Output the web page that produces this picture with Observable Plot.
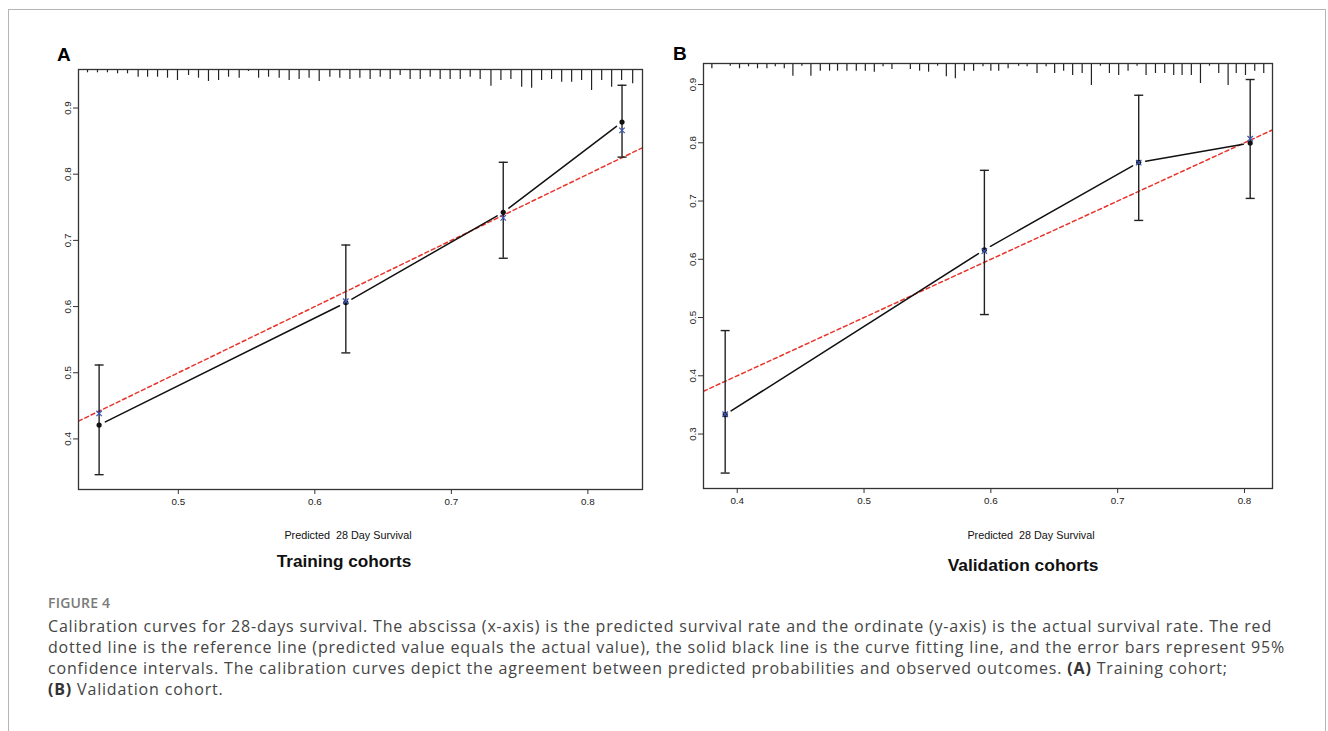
<!DOCTYPE html>
<html>
<head>
<meta charset="utf-8">
<script src="https://cdn.jsdelivr.net/npm/d3@7"></script>
<script src="https://cdn.jsdelivr.net/npm/@observablehq/plot@0.6"></script>
<style>
  html, body { margin: 0; padding: 0; background: #fff; }
  #page { position: relative; width: 1328px; height: 731px; overflow: hidden; background: #fff; }
  #border { position: absolute; left: 8px; top: 9px; width: 1318px; height: 760px; border: 1px solid #b5b5b5; box-sizing: border-box; }
  .panel { position: absolute; }
  .t { position: absolute; white-space: pre; transform: translate(-50%, -50%); font-family: "Liberation Sans", Arial, sans-serif; color: #111; }
  .letter { position: absolute; font-family: "Liberation Sans", Arial, sans-serif; font-weight: bold; font-size: 19px; color: #000; }
  #figlabel { position: absolute; left: 48px; top: 593px; font-family: "Open Sans", sans-serif; font-weight: 600; font-size: 14px; color: #7a7a7a; letter-spacing: 0.2px; }
  #caption { position: absolute; left: 48px; top: 616px; font-family: "Open Sans", sans-serif; font-size: 16px; line-height: 21px; color: #454545; }
  #caption div { white-space: nowrap; }
  #caption b { font-weight: 700; color: #333; }
</style>
</head>
<body>
<div id="page">
  <div id="border"></div>
  <div class="letter" style="left:57px; top:44px;">A</div>
  <div class="letter" style="left:673px; top:43px;">B</div>
  <div id="panelA" class="panel" style="left:40px; top:40px;"></div>
  <div id="panelB" class="panel" style="left:660px; top:40px;"></div>
  <div class="t" style="left:348px; top:535px; font-size:10.8px;">Predicted  28 Day Survival</div>
  <div class="t" style="left:344px; top:561px; font-size:17.2px; font-weight:bold;">Training cohorts</div>
  <div class="t" style="left:1031px; top:535px; font-size:10.8px;">Predicted  28 Day Survival</div>
  <div class="t" style="left:1023px; top:565px; font-size:17.4px; font-weight:bold;">Validation cohorts</div>
  <div id="figlabel">FIGURE 4</div>
  <div id="caption">
    <div id="cap1">Calibration curves for 28-days survival. The abscissa (x-axis) is the predicted survival rate and the ordinate (y-axis) is the actual survival rate. The red</div>
    <div>dotted line is the reference line (predicted value equals the actual value), the solid black line is the curve fitting line, and the error bars represent 95%</div>
    <div>confidence intervals. The calibration curves depict the agreement between predicted probabilities and observed outcomes. <b>(A)</b> Training cohort;</div>
    <div><b>(B)</b> Validation cohort.</div>
  </div>
</div>
<script>
// ---------- Panel A (training) ----------
const xTicksA = [0.5, 0.6, 0.7, 0.8];
const yTicksA = [0.4, 0.5, 0.6, 0.7, 0.8, 0.9];
const xDomainA = [0.4269, 0.840];
const yDomainA = [0.3236, 0.9582];
const predA = [0.442, 0.6227, 0.738, 0.825];
const obsA = [0.421, 0.606, 0.7424, 0.8788];
const lowA = [0.346, 0.530, 0.673, 0.8258];
const highA = [0.5117, 0.693, 0.818, 0.9344];
const corrA = [0.4385, 0.608, 0.734, 0.8662];
const rugPosA = [0.4335, 0.4408, 0.4481, 0.4555, 0.4628, 0.4706, 0.4775, 0.4848, 0.4921, 0.4994,
  0.5075, 0.5148, 0.5221, 0.5295, 0.5368, 0.5446, 0.5514, 0.5588, 0.5661, 0.5739,
  0.5812, 0.5885, 0.5958, 0.6032, 0.6110, 0.6183, 0.6257, 0.6330, 0.6405, 0.6479,
  0.6552, 0.6625, 0.6698, 0.6772, 0.6845, 0.6918, 0.6991, 0.7065, 0.7138, 0.7211,
  0.7290, 0.7363, 0.7436, 0.7515, 0.7588, 0.7661, 0.7734, 0.7808, 0.7881, 0.7954,
  0.8027, 0.8101, 0.8174, 0.8247, 0.8328];
const rugFreqA = [3.3, 3.3, 3.3, 4.3, 4.3, 7.7, 7.7, 7.7, 8.7, 11,
  6, 8.7, 12, 11, 7.7, 8.7, 2, 8.7, 7.7, 8.7,
  11, 10, 8.7, 12, 7.7, 8.7, 10, 8.7, 10, 7.7,
  10, 6, 10, 10, 7.7, 10, 10, 10, 7.7, 10,
  16.7, 11, 10, 17.7, 18.7, 11, 10, 12.7, 12.7, 11,
  21, 11, 17.7, 11, 14.3];

// ---------- Panel B (validation) ----------
const xTicksB = [0.4, 0.5, 0.6, 0.7, 0.8];
const yTicksB = [0.3, 0.4, 0.5, 0.6, 0.7, 0.8, 0.9];
const xDomainB = [0.3734, 0.8221];
const yDomainB = [0.2065, 0.9361];
const predB = [0.3905, 0.5949, 0.7166, 0.8045];
const obsB = [0.3332, 0.6163, 0.7664, 0.7996];
const lowB = [0.233, 0.5051, 0.6667, 0.7045];
const highB = [0.4776, 0.7527, 0.8816, 0.9086];
const corrB = [0.334, 0.614, 0.766, 0.807];
const rugPosB = [0.3800, 0.3945, 0.4018, 0.4089, 0.4160, 0.4234, 0.4300, 0.4371, 0.4439, 0.4510,
  0.4581, 0.4655, 0.4728, 0.4791, 0.4865, 0.4939, 0.5010, 0.5081, 0.5150, 0.5220,
  0.5365, 0.5438, 0.5509, 0.5580, 0.5649, 0.5720, 0.5791, 0.5864, 0.5938, 0.6000,
  0.6062, 0.6136, 0.6219, 0.6286, 0.6364, 0.6436, 0.6503, 0.6574, 0.6645, 0.6720,
  0.6793, 0.6864, 0.6935, 0.7008, 0.7082, 0.7153, 0.7224, 0.7298, 0.7371, 0.7442,
  0.7508, 0.7581, 0.7653, 0.7724, 0.7797, 0.7871, 0.7935, 0.8008, 0.8081, 0.8152];
const rugFreqB = [5.3, 2.7, 5.3, 3.3, 5.3, 5.3, 3.3, 5.3, 12.7, 2.7,
  12.7, 7.7, 7.7, 7.7, 7.7, 7.7, 7.7, 8.7, 3.3, 6,
  6, 7.7, 8.7, 2.7, 13.3, 15.3, 7.7, 7.7, 3.3, 7.7,
  7.7, 5.3, 2.7, 3.3, 10, 3.3, 10, 7.7, 12, 10,
  22, 2.7, 10, 12, 7.7, 2.7, 12, 10, 10, 12,
  12, 12, 20, 2.7, 10, 22, 10, 12, 7.7, 10];

// ---------- drawing helpers ----------
const capSymbol = {
  draw(ctx, size) { const w = Math.sqrt(size / Math.PI); ctx.moveTo(-w, 0); ctx.lineTo(w, 0); }
};
function gapCurve(gap) {
  return (context) => {
    let pts = [];
    return {
      areaStart() {}, areaEnd() {},
      lineStart() { pts = []; },
      point(x, y) { pts.push([+x, +y]); },
      lineEnd() {
        for (let i = 0; i < pts.length - 1; i++) {
          const [x0, y0] = pts[i], [x1, y1] = pts[i + 1];
          const L = Math.hypot(x1 - x0, y1 - y0);
          const ux = (x1 - x0) / L, uy = (y1 - y0) / L;
          context.moveTo(x0 + ux * gap, y0 + uy * gap);
          context.lineTo(x1 - ux * gap, y1 - uy * gap);
        }
      }
    };
  };
}

function panel(cfg) {
  const {width, height, mt, mr, mb, ml, xDomain, yDomain, xTicks, yTicks, pred, obs, low, high, corr, rugPos, rugFreq} = cfg;
  const rows = pred.map((p, i) => ({p, obs: obs[i], low: low[i], high: high[i], corr: corr[i]}));
  const spikeUnit = (yDomain[1] - yDomain[0]) / (height - mt - mb);
  const rug = rugPos.map((p, i) => ({p, n: rugFreq[i]}));
  const fmt = d3.format(".1f");
  return Plot.plot({
    width, height,
    marginTop: mt, marginRight: mr, marginBottom: mb, marginLeft: ml,
    style: {fontFamily: "Liberation Sans, Arial, sans-serif", fontSize: "9.8px", color: "#222", background: "transparent", overflow: "visible"},
    x: {domain: xDomain},
    y: {domain: yDomain},
    marks: [
      Plot.axisX({ticks: xTicks, tickSize: 5, tickPadding: 4, tickFormat: fmt, label: null, stroke: "#333"}),
      Plot.axisY({ticks: yTicks, tickSize: 5, tickPadding: 3, tickFormat: fmt, tickRotate: -90, label: null, stroke: "#333"}),
      Plot.ruleX(rug, {x: "p", y1: yDomain[1], y2: d => yDomain[1] - d.n * spikeUnit, stroke: "#222", strokeWidth: 1.2}),
      Plot.line(xDomain, {x: d => d, y: d => d, stroke: "#e8352b", strokeWidth: 1.5, strokeDasharray: "4,3", clip: true}),
      Plot.line(rows, {x: "p", y: "obs", curve: gapCurve(7), stroke: "#111", strokeWidth: 1.5}),
      Plot.ruleX(rows, {x: "p", y1: "low", y2: "high", stroke: "#222", strokeWidth: 1.4}),
      Plot.dot(rows, {x: "p", y: "low", symbol: capSymbol, r: 4.5, stroke: "#222", strokeWidth: 1.4, fill: "none"}),
      Plot.dot(rows, {x: "p", y: "high", symbol: capSymbol, r: 4.5, stroke: "#222", strokeWidth: 1.4, fill: "none"}),
      Plot.dot(rows, {x: "p", y: "obs", r: 2.6, fill: "#111", stroke: "none"}),
      Plot.dot(rows, {x: "p", y: "corr", symbol: "times", r: 2.6, stroke: "#3a56b5", strokeWidth: 1.2}),
      Plot.frame({stroke: "#333", strokeWidth: 1.3})
    ]
  });
}

document.getElementById("panelA").append(panel({
  width: 620, height: 520, mt: 29, mr: 18, mb: 71, ml: 38,
  xDomain: xDomainA, yDomain: yDomainA, xTicks: xTicksA, yTicks: yTicksA,
  pred: predA, obs: obsA, low: lowA, high: highA, corr: corrA, rugPos: rugPosA, rugFreq: rugFreqA
}));
document.getElementById("panelB").append(panel({
  width: 630, height: 520, mt: 23, mr: 18, mb: 72, ml: 43,
  xDomain: xDomainB, yDomain: yDomainB, xTicks: xTicksB, yTicks: yTicksB,
  pred: predB, obs: obsB, low: lowB, high: highB, corr: corrB, rugPos: rugPosB, rugFreq: rugFreqB
}));

// fit the caption's tracking so its first line spans the same width as in the figure
(function fitCaption() {
  const cap = document.getElementById("caption");
  const line1 = document.getElementById("cap1");
  const target = 1224;
  cap.style.letterSpacing = "0px";
  const range = document.createRange();
  range.selectNodeContents(line1);
  const w = range.getBoundingClientRect().width;
  const n = line1.textContent.length;
  cap.style.letterSpacing = ((target - w) / n).toFixed(3) + "px";
})();
</script>
</body>
</html>
